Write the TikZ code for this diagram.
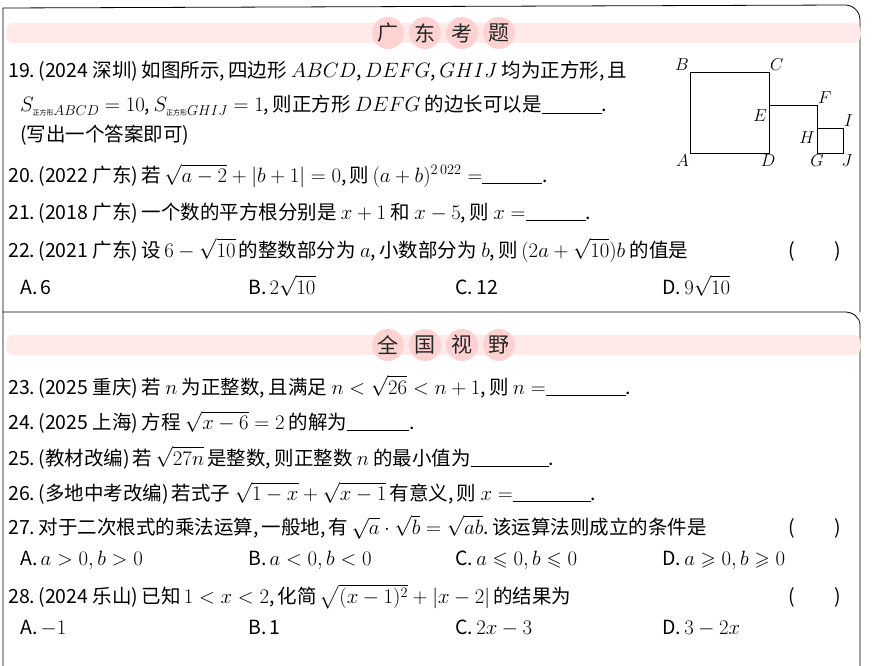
\documentclass[tikz,border=0pt]{standalone}
\usepackage{amsmath,amssymb}
\usepackage{fontspec}
\setmainfont{Noto Sans CJK SC}
\newcommand{\blank}[1]{\rule[-2pt]{#1}{0.6pt}}
\newcommand{\cm}{,\,}
\begin{document}
\begin{tikzpicture}[x=1pt,y=-1pt,
  txt/.style={anchor=base west,inner sep=0pt,font=\fontsize{19.5}{22}\selectfont},
  hd/.style={font=\fontsize{21}{23}\selectfont,inner sep=0pt,text=black!85},
  lab/.style={font=\fontsize{16}{18}\selectfont,inner sep=1pt}]
\useasboundingbox (0,0) rectangle (883,666);
\fill[white] (0,0) rectangle (883,666);
% frames
\draw[line width=0.8pt] (3,312) -- (3,8) -- (845,5) to[out=0,in=90] (860,20) -- (860,312);
\draw[line width=0.8pt] (3,666) -- (3,312) -- (845,312) to[out=0,in=90] (860,325) -- (860,666);
% banners
\foreach \y in {33,345}{
  \fill[pink!35] (12,\y-10) -- (855,\y-10) to[out=0,in=0] (855,\y+10) -- (12,\y+10) to[out=180,in=180] cycle;
  \foreach \i in {0,1,2,3}{\fill[pink!70] (388+\i*37,\y) circle (16);}
}
\node[hd] (a0) at (388,33) {广}; \node[hd] (a1) at (425,33) {东};
\node[hd] (a2) at (462,33) {考}; \node[hd] (a3) at (499,33) {题};
\node[hd] (b0) at (388,345) {全}; \node[hd] (b1) at (425,345) {国};
\node[hd] (b2) at (462,345) {视}; \node[hd] (b3) at (499,345) {野};
% figure
\coordinate (A) at (690,153); \coordinate (B) at (690,72);
\coordinate (C) at (769,72); \coordinate (D) at (769,153);
\coordinate (E) at (769,105); \coordinate (F) at (817,105);
\coordinate (G) at (817,153); \coordinate (H) at (817,128);
\coordinate (I) at (843,128); \coordinate (J) at (843,153);
\draw[line width=0.8pt] (A) -- (B) -- (C) -- (D) -- cycle (E) -- (F) -- (G) (H) -- (I) -- (J) -- (G);
\node[lab,anchor=south east] at (B) {$B$};
\node[lab,anchor=south west] at (C) {$C$};
\node[lab,anchor=north east] at (A) {$A$};
\node[lab,anchor=north] at ([xshift=-1]D) {$D$};
\node[lab,anchor=north east] at ([xshift=-1,yshift=-3]E) {$E$};
\node[lab,anchor=south west] at (F) {$F$};
\node[lab,anchor=north east] at ([xshift=-1,yshift=-2]H) {$H$};
\node[lab,anchor=south west] at (I) {$I$};
\node[lab,anchor=north] at (G) {$G$};
\node[lab,anchor=north] at ([xshift=4]J) {$J$};
% text
\node[txt] (q19) at (8,78) {19.\,(2024 深圳)\,如图所示\cm 四边形 $ABCD$\cm$DEFG$\cm$GHIJ$ 均为正方形\cm 且};
\node[txt] (q19b) at (20,112) {$S_{\text{\scriptsize 正方形}ABCD}=10$\cm$S_{\text{\scriptsize 正方形}GHIJ}=1$\cm 则正方形 $DEFG$ 的边长可以是\blank{60pt}.};
\node[txt] (q19c) at (20,142) {(写出一个答案即可)};
\node[txt] (q20) at (8,182) {20.\,(2022 广东)\,若\,$\sqrt{a-2}+|b+1|=0$\cm 则\,$(a+b)^{2\,022}=$\blank{60pt}.};
\node[txt] (q21) at (8,219) {21.\,(2018 广东)\,一个数的平方根分别是 $x+1$ 和 $x-5$\cm 则 $x=$\blank{60pt}.};
\node[txt] (q22) at (8,257) {22.\,(2021 广东)\,设\,$6-\sqrt{10}$\,的整数部分为 $a$\cm 小数部分为 $b$\cm 则\,$(2a+\sqrt{10})b$ 的值是};
\node[txt] at (788,257) {(\hspace{40pt})};
\node[txt] at (20,294) {A.\,6};
\node[txt] at (248,294) {B.\,$2\sqrt{10}$};
\node[txt] at (455,294) {C.\,12};
\node[txt] at (662,294) {D.\,$9\sqrt{10}$};
\node[txt] (q23) at (8,394) {23.\,(2025 重庆)\,若 $n$ 为正整数\cm 且满足 $n<\sqrt{26}<n+1$\cm 则 $n=$\blank{80pt}.};
\node[txt] (q24) at (8,429) {24.\,(2025 上海)\,方程 $\sqrt{x-6}=2$ 的解为\blank{62pt}.};
\node[txt] (q25) at (8,465) {25.\,(教材改编)\,若\,$\sqrt{27n}$\,是整数\cm 则正整数 $n$ 的最小值为\blank{78pt}.};
\node[txt] (q26) at (8,500) {26.\,(多地中考改编)\,若式子 $\sqrt{1-x}+\sqrt{x-1}$\,有意义\cm 则 $x=$\blank{78pt}.};
\node[txt] (q27) at (8,534) {27.\,对于二次根式的乘法运算\cm 一般地\cm 有\,$\sqrt{a}\cdot\sqrt{b}=\sqrt{ab}$.\,该运算法则成立的条件是};
\node[txt] at (788,534) {(\hspace{40pt})};
\node[txt] at (20,565) {A.\,$a>0,b>0$};
\node[txt] at (248,565) {B.\,$a<0,b<0$};
\node[txt] at (455,565) {C.\,$a\leqslant0,b\leqslant0$};
\node[txt] at (662,565) {D.\,$a\geqslant0,b\geqslant0$};
\node[txt] (q28) at (8,603) {28.\,(2024 乐山)\,已知\,$1<x<2$\cm 化简\,$\sqrt{(x-1)^2}+|x-2|$\,的结果为};
\node[txt] at (788,603) {(\hspace{40pt})};
\node[txt] at (20,634) {A.\,$-1$};
\node[txt] at (248,634) {B.\,1};
\node[txt] at (455,634) {C.\,$2x-3$};
\node[txt] at (662,634) {D.\,$3-2x$};
\end{tikzpicture}
\end{document}
